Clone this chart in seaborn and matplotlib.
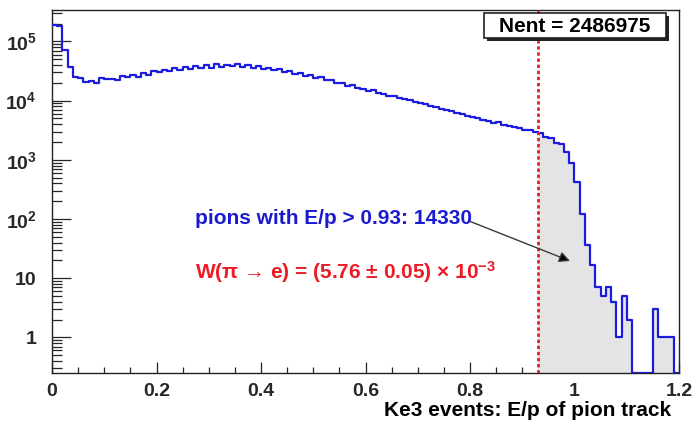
import numpy as np
import pandas as pd
import matplotlib
matplotlib.use("Agg")
import matplotlib.pyplot as plt
import seaborn as sns
from matplotlib.ticker import LogLocator, MultipleLocator, FuncFormatter, NullFormatter, FixedLocator
from matplotlib.patches import Rectangle

# ---------------- data ----------------
bin_lo, bin_hi, n_bins = 0.0, 1.2, 120
counts = [
    190000, 185000, 72000, 37000, 25500, 24500, 21000, 21500, 20000, 24500,
    23500, 23000, 22000, 26500, 25500, 27000, 25000, 29500, 27500, 32000,
    30000, 33500, 31500, 35000, 33000, 36500, 34000, 38000, 35500, 39500,
    36000, 41000, 37500, 40500, 38000, 41500, 37000, 39500, 36000, 38500,
    34500, 36000, 32500, 34000, 31000, 31500, 28500, 29500, 26500, 27500,
    24500, 25000, 22000, 22500, 19500, 20000, 18000, 18500, 16500, 16000,
    14500, 15000, 13500, 13000, 12000, 12200, 11000, 10500, 10200, 9500,
    9000, 8800, 8000, 7900, 7200, 7000, 6600, 6200, 6000, 5400,
    5300, 5000, 4700, 4600, 4200, 4300, 3900, 3700, 3600, 3400,
    3200, 3250, 3000, 2850, 2420, 2350, 1950, 1870, 1380, 890,
    414, 120, 37, 17, 7, 5, 7, 4, 1, 5,
    2, 0, 0, 0, 0, 3, 1, 1, 1, 0,
]
cut = 0.93
nent_label = "Nent = 2486975"
pion_label = "pions with E/p > 0.93: 14330"
w_label = "W(π → e) = (5.76 ± 0.05) × 10$^{-3}$"
x_title = "Ke3 events: E/p of pion track"
x_ticks = [0, 0.2, 0.4, 0.6, 0.8, 1.0, 1.2]
y_ticks = [1, 10, 1e2, 1e3, 1e4, 1e5]
y_tick_labels = ["1", "10", r"$10^{2}$", r"$10^{3}$", r"$10^{4}$", r"$10^{5}$"]

# ---------------- style ----------------
W, H = 695, 422
sns.set_style("ticks")
plt.rcParams["font.family"] = ["Liberation Sans", "DejaVu Sans"]
plt.rcParams["font.weight"] = "bold"
plt.rcParams["mathtext.fontset"] = "custom"
for k in ("rm", "it", "bf", "sf"):
    plt.rcParams["mathtext." + k] = "Liberation Sans:bold"

BLUE = "#1c1ce0"
TEXT_BLUE = "#1a1ad0"
RED = "#ec1c24"
FILL = "#e4e4e4"
Y_LO, Y_HI = 0.25, 3.4e5

fig = plt.figure(figsize=(W / 100, H / 100), dpi=100)
fig.patch.set_facecolor("white")
ax = fig.add_axes([52 / W, 1 - 373 / H, (679 - 52) / W, (373 - 10) / H])
ax.set_facecolor("white")

def fpx(x, y):
    return (x / W, 1 - y / H)

edges = np.linspace(bin_lo, bin_hi, n_bins + 1)
centers = 0.5 * (edges[:-1] + edges[1:])
counts_arr = np.array(counts, dtype=float)
# ROOT draws empty bins on the lower frame edge of a log axis
shown = np.maximum(counts_arr, Y_LO)
df = pd.DataFrame({"ep": centers, "n": shown})

ax.set_yscale("log")

# gray area above the cut
sel = centers > cut
xs = np.append(edges[:-1][sel], edges[-1])
ys = np.append(shown[sel], shown[sel][-1])
ax.fill_between(xs, Y_LO, ys, step="post", color=FILL, lw=0, zorder=1)

sns.histplot(data=df, x="ep", weights="n", bins=n_bins, binrange=(bin_lo, bin_hi),
             element="step", fill=False, color=BLUE, linewidth=1.6, ax=ax, zorder=3)

ax.axvline(cut, color=RED, lw=2.0, ls=(0, (1.2, 1.0)), zorder=4)

ax.set_xlim(bin_lo, bin_hi)
ax.set_ylim(Y_LO, Y_HI)
ax.set_xlabel("")
ax.set_ylabel("")

# ticks
ax.set_xticks(x_ticks)
ax.xaxis.set_minor_locator(MultipleLocator(0.05))
ax.xaxis.set_major_formatter(FuncFormatter(lambda v, p: f"{v:g}"))
ax.yaxis.set_major_locator(FixedLocator(y_ticks))
ax.set_yticklabels(y_tick_labels)
ax.yaxis.set_minor_locator(LogLocator(base=10, subs=np.arange(2, 10), numticks=20))
ax.yaxis.set_minor_formatter(NullFormatter())

ax.tick_params(axis="x", which="major", direction="in", length=8, width=0.9,
               pad=7, labelsize=14, top=False)
ax.tick_params(axis="x", which="minor", direction="in", length=4.3, width=0.9, top=False)
ax.tick_params(axis="y", which="major", direction="in", length=13.5, width=0.9,
               pad=11, labelsize=14, right=False)
ax.tick_params(axis="y", which="minor", direction="in", length=7, width=0.9, right=False)
for lab in ax.get_xticklabels() + ax.get_yticklabels():
    lab.set_fontweight("bold")
for s in ax.spines.values():
    s.set_visible(True)
    s.set_color("#222222")
    s.set_linewidth(1.0)

# Nent box with shadow
bx0, by0, bx1, by1 = 484, 13, 666, 38
sh = 3
x0, y0 = fpx(bx0 + sh, by1 + sh)
fig.patches.append(Rectangle((x0, y0), (bx1 - bx0) / W, (by1 - by0) / H,
                             transform=fig.transFigure, facecolor="#222222",
                             edgecolor="none", zorder=10))
x0, y0 = fpx(bx0, by1)
fig.patches.append(Rectangle((x0, y0), (bx1 - bx0) / W, (by1 - by0) / H,
                             transform=fig.transFigure, facecolor="white",
                             edgecolor="#222222", lw=1.2, zorder=11))
fig.text(*fpx((bx0 + bx1) / 2, (by0 + by1) / 2 + 1), nent_label, ha="center",
         va="center", fontsize=15, fontweight="bold", color="black", zorder=12)

# annotations
fig.text(*fpx(195, 218), pion_label, ha="left", va="center", fontsize=15,
         fontweight="bold", color=TEXT_BLUE, zorder=6)
fig.text(*fpx(195, 272), w_label, ha="left", va="center", fontsize=15,
         fontweight="bold", color=RED, zorder=6)
ax.annotate("", xy=fpx(570, 261), xycoords="figure fraction",
            xytext=fpx(469, 221), textcoords="figure fraction",
            arrowprops=dict(arrowstyle="-|>", color="#3a3a3a", lw=1.0,
                            mutation_scale=16, shrinkA=0, shrinkB=0,
                            fc="black"), zorder=6)

fig.text(*fpx(671, 410), x_title, ha="right", va="center", fontsize=15,
         fontweight="bold", color="black")

fig.savefig("out.png", dpi=100, facecolor="white")
